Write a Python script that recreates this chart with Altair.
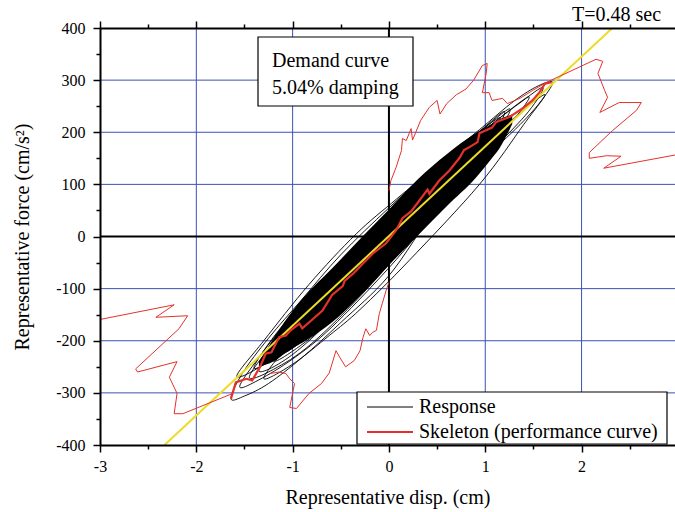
import altair as alt
import pandas as pd

FONT = "Liberation Serif"
RED = "#e4322b"
YELLOW = "#ecdc26"
BLUE = "#3b52b4"

# ---------------- data ----------------
# demand curve (5.04% damping)
demand_x = [-2.33, 2.32]
demand_y = [-400, 400]

# skeleton (performance curve), thick red
skel_x = [-1.64, -1.59, -1.48, -1.42, -1.34, -1.28, -1.22, -1.14, -1.07, -1.02, -0.93, -0.90, -0.83,
          -0.69, -0.59, -0.48, -0.46, -0.37, -0.27, -0.17, -0.03, 0.075, 0.14, 0.23, 0.32, 0.40, 0.42,
          0.52, 0.63, 0.73, 0.78, 0.84, 0.92, 0.94, 1.07, 1.11, 1.25, 1.39, 1.49, 1.56, 1.62, 1.69]
skel_y = [-311, -280, -273, -276, -251, -225, -222, -193, -190, -180, -167, -176, -165,
          -142, -112, -95, -85, -71, -52, -33, -13, 12, 35, 48, 70, 90, 82,
          107, 127, 150, 166, 172, 181, 198, 209, 219, 229, 246, 261, 276, 293, 296]

# thin red traces
thin_left_x = [-3.05, -2.23, -2.42, -2.09, -2.18, -2.63, -2.61, -2.20, -2.28, -2.20, -2.23, -2.14, -1.62]
thin_left_y = [-161, -131, -155, -152, -177, -254, -260, -240, -270, -301, -340, -340, -301]

thin_mid_x = [-1.24, -1.14, -1.07, -1.03, -0.98, -1.03, -0.96, -0.83, -0.70, -0.62, -0.55, -0.51, -0.45,
              -0.36, -0.30, -0.27, -0.24, -0.20, -0.17, -0.13, -0.10, -0.07, -0.03, 0.00]
thin_mid_y = [-263, -260, -263, -273, -282, -328, -330, -301, -282, -262, -219, -232, -250,
              -238, -219, -194, -177, -190, -184, -180, -148, -129, -104, -88]

thin_up_x = [0.00, 0.02, 0.075, 0.13, 0.14, 0.18, 0.23, 0.245, 0.33, 0.42, 0.50, 0.53, 0.60, 0.70, 0.80,
             0.88, 0.97, 1.02, 1.01, 0.97, 1.04, 1.07, 1.18, 1.23, 1.36, 1.49, 1.64, 2.15, 2.22, 2.17,
             2.24, 2.27, 2.19, 2.39, 2.62, 2.57, 2.32, 2.08, 2.08, 2.26, 2.41, 2.23, 3.02]
thin_up_y = [88, 107, 133, 165, 188, 184, 207, 185, 223, 248, 261, 235, 255, 272, 283,
             300, 328, 332, 313, 276, 276, 261, 265, 255, 265, 280, 296, 340, 336, 313,
             280, 267, 238, 257, 257, 242, 203, 161, 150, 155, 154, 131, 158]

# response hysteresis loops (black)
loop_1 = [(-1.64, -311), (-1.52, -262), (-1.25, -195), (-0.90, -120), (-0.50, -35), (0.00, 55), (0.50, 138),
          (0.94, 205), (1.30, 260), (1.55, 289), (1.70, 296), (1.60, 265), (1.40, 222), (1.00, 150),
          (0.50, 55), (0.00, -75), (-0.50, -165), (-0.90, -232), (-1.25, -282), (-1.50, -306)]
loop_2 = [(-1.55, -288), (-1.35, -232), (-1.00, -150), (-0.50, -50), (0.00, 40), (0.50, 125), (1.00, 205),
          (1.35, 255), (1.60, 286), (1.45, 240), (1.10, 170), (0.60, 70), (0.00, -60), (-0.60, -175),
          (-1.00, -235), (-1.35, -275)]
loop_3 = [(-1.45, -270), (-1.20, -205), (-0.80, -125), (-0.30, -25), (0.20, 70), (0.70, 160), (1.10, 220),
          (1.45, 268), (1.30, 225), (0.90, 140), (0.40, 35), (-0.20, -95), (-0.80, -205), (-1.20, -255)]
loop_4 = [(-1.58, -268), (-1.30, -200), (-0.83, -92), (-0.34, 5), (0.08, 72), (0.49, 135), (0.94, 202),
          (1.20, 240), (1.05, 190), (0.60, 110), (0.10, 15), (-0.40, -90), (-0.90, -180), (-1.30, -245)]
loop_5 = [(-1.30, -272), (-1.00, -200), (-0.50, -105), (0.00, -10), (0.50, 85), (1.00, 175), (1.35, 235),
          (1.62, 272), (1.40, 215), (0.94, 100), (0.21, -46), (-0.30, -140), (-0.62, -190), (-1.00, -245)]
loop_6 = [(-1.35, -255), (-1.05, -180), (-0.60, -80), (-0.10, 18), (0.40, 110), (0.85, 185), (1.25, 245),
          (1.10, 195), (0.70, 115), (0.20, 10), (-0.30, -100), (-0.80, -195), (-1.15, -245)]
loop_7 = [(-1.20, -235), (-0.90, -150), (-0.40, -50), (0.10, 50), (0.60, 140), (1.05, 210), (0.90, 160),
          (0.40, 55), (-0.10, -60), (-0.60, -160), (-1.00, -220)]
loop_8 = [(-1.05, -215), (-0.70, -125), (-0.20, -20), (0.30, 80), (0.80, 170), (1.12, 215), (0.95, 170),
          (0.50, 75), (0.00, -35), (-0.50, -140), (-0.90, -200)]
loop_9 = [(-1.40, -250), (-1.10, -170), (-0.70, -95), (-0.20, 5), (0.30, 95), (0.80, 180), (1.15, 228),
          (1.00, 185), (0.60, 105), (0.10, 5), (-0.40, -110), (-0.90, -200), (-1.20, -235)]
loops = [loop_1, loop_2, loop_3, loop_4, loop_5, loop_6, loop_7, loop_8, loop_9]

# dense core of the response
core_x = [-1.35, -1.20, -1.05, -0.90, -0.60, -0.30, 0.00, 0.30, 0.60, 0.90, 1.05, 1.15, 1.28]
core_lo = [-250, -240, -220, -204, -166, -114, -55, 2, 58, 112, 146, 170, 216]
core_hi = [-240, -196, -155, -120, -63, -5, 52, 110, 158, 198, 214, 225, 234]

# axes / grid values
x_major = [-3, -2, -1, 0, 1, 2, 3]
x_minor = [-2.5, -1.5, -0.5, 0.5, 1.5, 2.5]
y_major = [-400, -300, -200, -100, 0, 100, 200, 300, 400]
y_minor = [-350, -250, -150, -50, 50, 150, 250, 350]
grid_x = [-2, -1, 1, 2]
grid_y = [-300, -200, -100, 100, 200, 300]

# ---------------- frames ----------------
df_demand = pd.DataFrame({"x": demand_x, "y": demand_y})
df_skel = pd.DataFrame({"x": skel_x, "y": skel_y, "i": range(len(skel_x))})
thin_rows = []
for seg, (xs_, ys_) in enumerate([(thin_left_x, thin_left_y), (thin_mid_x, thin_mid_y), (thin_up_x, thin_up_y)]):
    for i, (a, b) in enumerate(zip(xs_, ys_)):
        thin_rows.append({"x": a, "y": b, "seg": seg, "i": i})
df_thin = pd.DataFrame(thin_rows)
loop_rows = []
for k, lp in enumerate(loops):
    for i, (a, b) in enumerate(lp):
        loop_rows.append({"x": a, "y": b, "loop": k, "i": i})
df_loops = pd.DataFrame(loop_rows)
df_core = pd.DataFrame({"x": core_x, "lo": core_lo, "hi": core_hi})

xs = alt.Scale(domain=[-3, 2.97], nice=False, zero=False)
ys = alt.Scale(domain=[-400, 400], nice=False, zero=False)

common_axis = dict(domainColor="black", domainWidth=2, tickColor="black", tickWidth=1.5,
                   labelFont=FONT, labelFontSize=16, labelColor="black", titleFont=FONT,
                   titleFontSize=20, titleFontWeight="normal", titleColor="black", grid=False, zindex=1,
                   labelExpr="toString(datum.value)")

x_bottom = alt.Axis(orient="bottom", values=x_major, tickSize=7, labelPadding=6, title="Representative disp. (cm)",
                    titlePadding=13, labelFlush=False, labelOverlap=False, **common_axis)
y_left = alt.Axis(orient="left", values=y_major, tickSize=7, labelPadding=8, title="Representative force (cm/s²)",
                  titlePadding=23, labelOverlap=False, **common_axis)
x_bottom_minor = alt.Axis(orient="bottom", values=x_minor, tickSize=4, labels=False, domain=False, title=None,
                          tickColor="black", tickWidth=1.5, grid=False, zindex=1)
y_left_minor = alt.Axis(orient="left", values=y_minor, tickSize=4, labels=False, domain=False, title=None,
                        tickColor="black", tickWidth=1.5, grid=False, zindex=1)
x_top = alt.Axis(orient="top", values=x_major, tickSize=7, labels=False, domain=True, title=None,
                 domainColor="black", domainWidth=2, tickColor="black", tickWidth=1.5, grid=False, zindex=1)
x_top_minor = alt.Axis(orient="top", values=x_minor, tickSize=4, labels=False, domain=False, title=None,
                       tickColor="black", tickWidth=1.5, grid=False, zindex=1)

# grid
gx = alt.Chart(pd.DataFrame({"v": grid_x})).mark_rule(color=BLUE, strokeWidth=1).encode(
    x=alt.X("v:Q", scale=xs, axis=None))
gy = alt.Chart(pd.DataFrame({"v": grid_y})).mark_rule(color=BLUE, strokeWidth=1).encode(
    y=alt.Y("v:Q", scale=ys, axis=None))
zx = alt.Chart(pd.DataFrame({"v": [0]})).mark_rule(color="black", strokeWidth=2).encode(
    x=alt.X("v:Q", scale=xs, axis=None))
zy = alt.Chart(pd.DataFrame({"v": [0]})).mark_rule(color="black", strokeWidth=2).encode(
    y=alt.Y("v:Q", scale=ys, axis=None))

core = alt.Chart(df_core).mark_area(color="black", orient="vertical", clip=True, interpolate="monotone").encode(
    x=alt.X("x:Q", scale=xs, axis=x_bottom),
    y=alt.Y("lo:Q", scale=ys, axis=y_left),
    y2="hi:Q")

loops_ch = alt.Chart(df_loops).mark_line(color="black", strokeWidth=0.9, interpolate="cardinal-closed",
                                         clip=True).encode(
    x=alt.X("x:Q", scale=xs, axis=x_bottom_minor),
    y=alt.Y("y:Q", scale=ys, axis=y_left_minor),
    detail="loop:N", order="i:Q")

demand = alt.Chart(df_demand).mark_line(color=YELLOW, strokeWidth=2, clip=True).encode(
    x=alt.X("x:Q", scale=xs, axis=x_top),
    y=alt.Y("y:Q", scale=ys, axis=None))

skel = alt.Chart(df_skel).mark_line(color=RED, strokeWidth=2.2, clip=True).encode(
    x=alt.X("x:Q", scale=xs, axis=x_top_minor),
    y=alt.Y("y:Q", scale=ys, axis=None),
    order="i:Q")

thin = alt.Chart(df_thin).mark_line(color=RED, strokeWidth=1, clip=True).encode(
    x=alt.X("x:Q", scale=xs, axis=None),
    y=alt.Y("y:Q", scale=ys, axis=None),
    detail="seg:N", order="i:Q")

one = pd.DataFrame({"a": [0]})

# annotation box
box = alt.Chart(one).mark_rect(fill="white", stroke="black", strokeWidth=1.2).encode(
    x=alt.value(158), x2=alt.value(313), y=alt.value(9), y2=alt.value(78))
box_text = alt.Chart(one).mark_text(align="left", baseline="alphabetic", font=FONT, fontSize=20,
                                    color="black", lineHeight=27).encode(
    x=alt.value(172), y=alt.value(39), text=alt.value(["Demand curve", "5.04% damping"]))

period = alt.Chart(one).mark_text(align="left", baseline="alphabetic", font=FONT, fontSize=20,
                                  color="black").encode(
    x=alt.value(472), y=alt.value(-7), text=alt.value("T=0.48 sec"))

# legend
leg_box = alt.Chart(one).mark_rect(fill="white", stroke="black", strokeWidth=1.2).encode(
    x=alt.value(257), x2=alt.value(567), y=alt.value(364), y2=alt.value(416))
leg_l1 = alt.Chart(one).mark_rule(color="black", strokeWidth=1).encode(
    x=alt.value(267), x2=alt.value(313), y=alt.value(379))
leg_l2 = alt.Chart(one).mark_rule(color=RED, strokeWidth=2.2).encode(
    x=alt.value(267), x2=alt.value(313), y=alt.value(404))
leg_t1 = alt.Chart(one).mark_text(align="left", baseline="middle", font=FONT, fontSize=20, color="black").encode(
    x=alt.value(319), y=alt.value(379), text=alt.value("Response"))
leg_t2 = alt.Chart(one).mark_text(align="left", baseline="middle", font=FONT, fontSize=20, color="black").encode(
    x=alt.value(319), y=alt.value(404), text=alt.value("Skeleton (performance curve)"))

chart = alt.layer(
    gx, gy, zx, zy, core, loops_ch, demand, skel, thin,
    box, box_text, period, leg_box, leg_l1, leg_l2, leg_t1, leg_t2
).resolve_axis(x="independent", y="independent").properties(
    width=575, height=417,
    autosize=alt.AutoSizeParams(type="none"),
    padding={"left": 100, "top": 28, "right": 0, "bottom": 67},
    background="white",
).configure_view(stroke=None).configure_axis(labelFont=FONT, titleFont=FONT)

chart.save("out.html", embed_options={"renderer": "svg", "actions": False})
